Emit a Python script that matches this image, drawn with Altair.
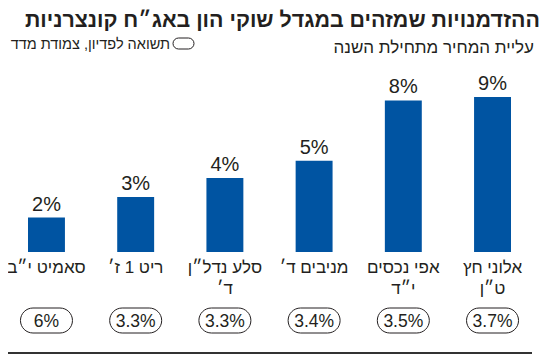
import altair as alt
import pandas as pd

names = ["סאמיט י״ב", "ריט 1 ז׳", "סלע נדל״ן\nד׳", "מניבים ד׳", "אפי נכסים\nי״ד", "אלוני חץ\nט״ן"]
rise = [2.0, 3.2, 4.3, 5.3, 8.8, 9.0]
rise_labels = ["2%", "3%", "4%", "5%", "8%", "9%"]
ytm_labels = ["6%", "3.3%", "3.3%", "3.4%", "3.5%", "3.7%"]

title = "ההזדמנויות שמזהים במגדל שוקי הון באג״ח קונצרניות"
subtitle = "עליית המחיר מתחילת השנה"
legend_text = "תשואה לפדיון, צמודת מדד"

FONT = "Liberation Sans, Arimo, sans-serif"
BLUE = "#0054a2"
INK = "#231f20"

df = pd.DataFrame({"name": names, "rise": rise, "rl": rise_labels, "ytm": ytm_labels})

xs = alt.X("name:N", sort=names, axis=None,
           scale=alt.Scale(range=[20, 503], paddingInner=0.586, paddingOuter=0))
ys = alt.Y("rise:Q", axis=None, scale=alt.Scale(domain=[0, 9], range=[244, 89]))

base = alt.Chart(df)

bars = base.mark_bar(color=BLUE).encode(x=xs, y=ys, y2=alt.datum(0))

vals = base.mark_text(font=FONT, fontSize=20, color=INK, baseline="alphabetic", dy=-7).encode(
    x=xs, y=ys, text="rl:N")

cats = base.mark_text(font=FONT, fontSize=17, color=INK, baseline="alphabetic",
                      lineBreak="\n", lineHeight=21).encode(
    x=xs, y=alt.value(265), text="name:N")

ovals = base.mark_bar(width=52, cornerRadius=12.5, fill="white", stroke=INK, strokeWidth=1).encode(
    x=xs, y=alt.value(300), y2=alt.value(325))

ovtext = base.mark_text(font=FONT, fontSize=17.5, color=INK, baseline="alphabetic").encode(
    x=xs, y=alt.value(318.5), text="ytm:N")

one = alt.Chart(pd.DataFrame({"t": [title], "s": [subtitle], "l": [legend_text]}))

ttl = one.mark_text(font=FONT, fontSize=21.4, fontWeight="bold", color=INK, align="right",
                    baseline="alphabetic").encode(x=alt.value(532), y=alt.value(19), text="t:N")
sub = one.mark_text(font=FONT, fontSize=17, color=INK, align="right",
                    baseline="alphabetic").encode(x=alt.value(526), y=alt.value(45), text="s:N")
leg = one.mark_text(font=FONT, fontSize=14.5, color=INK, align="right",
                    baseline="alphabetic").encode(x=alt.value(162), y=alt.value(41), text="l:N")
legbox = one.mark_rect(cornerRadius=5.5, fill="white", stroke=INK, strokeWidth=1).encode(
    x=alt.value(165), x2=alt.value(186), y=alt.value(30), y2=alt.value(41))

rule = one.mark_rule(color="#333333", strokeWidth=2).encode(
    x=alt.value(0), x2=alt.value(524), y=alt.value(345))

chart = alt.layer(bars, vals, cats, ovals, ovtext, ttl, sub, leg, legbox, rule).properties(
    width=534, height=350, padding=0, autosize="none"
).configure_view(stroke=None)

chart.save("out.html", embed_options={"renderer": "svg", "actions": False})
